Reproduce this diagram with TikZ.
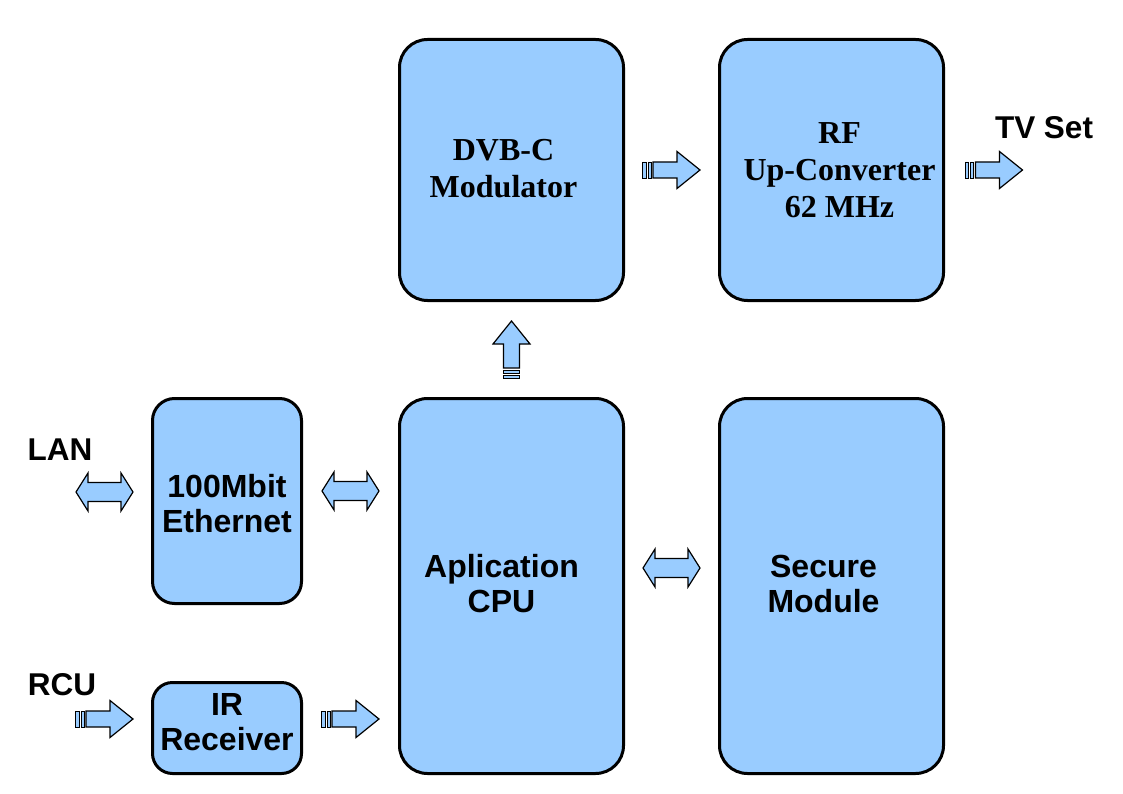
\documentclass[tikz,border=0pt]{standalone}
\usepackage{fontspec}
\setmainfont{Liberation Sans}
\newfontfamily\timesfam{Liberation Serif}
\usetikzlibrary{calc}
\definecolor{boxblue}{HTML}{99CCFF}
\tikzset{
	block/.style={draw=black, line width=3pt, fill=boxblue, rounded corners=28pt, inner sep=0pt},
	txt/.style={align=center, inner sep=0pt, font=\fontsize{32}{35}\selectfont\bfseries},
	sertxt/.style={align=center, inner sep=0pt, font=\timesfam\fontsize{32}{37}\selectfont\bfseries},
	tag/.style={font=\fontsize{31.5}{34}\selectfont\bfseries},
	tipline/.style={fill=boxblue, draw=black, line width=1.2pt, line join=miter},
	sarrow/.pic={
		\filldraw[tipline, line width=0.9pt] (-29,-8) rectangle (-25.5,8) (-23.5,-8) rectangle (-20.5,8);
		\filldraw[tipline] (-18.5,-8) -- (5.5,-8) -- (5.5,-18.5) -- (28.5,0) -- (5.5,18.5) -- (5.5,8) -- (-18.5,8) -- cycle;
	},
	darrow/.pic={
		\filldraw[tipline] (-28.5,0) -- (-16.5,-19) -- (-16.5,-9.5) -- (16.5,-9.5) -- (16.5,-19) -- (28.5,0) -- (16.5,19) -- (16.5,9.5) -- (-16.5,9.5) -- (-16.5,19) -- cycle;
	}
}
\begin{document}
\begin{tikzpicture}[x=1pt, y=-1pt]
			\useasboundingbox[fill=white] (0,0) rectangle (1123,794);
			% boxes
			\node[block, minimum width=224pt, minimum height=261pt, label={[sertxt, xshift=-8pt, yshift=1pt]center:DVB-C\\Modulator}] (dvb) at (511.5,170) {};
			\node[block, minimum width=224pt, minimum height=261pt, label={[sertxt, xshift=8pt]center:RF\\Up-Converter\\62 MHz}] (rf) at (831.5,170) {};
			\node[block, rounded corners=22pt, minimum width=149pt, minimum height=205pt, label={[txt, yshift=-3pt]center:100Mbit\\Ethernet}] (eth) at (227,501) {};
			\node[block, rounded corners=20pt, minimum width=149pt, minimum height=91pt, label={[txt, yshift=6pt]center:IR\\Receiver}] (ir) at (227,728) {};
			\node[block, minimum width=224pt, minimum height=375pt, label={[txt, xshift=-10pt, yshift=2pt]center:Aplication\\CPU}] (cpu) at (511.5,586) {};
			\node[block, minimum width=224pt, minimum height=375pt, label={[txt, xshift=-8pt, yshift=2pt]center:Secure\\Module}] (sec) at (831.5,586) {};
			% outside labels
			\node[tag] (lan) at (60,450) {LAN};
			\node[tag] (rcu) at (62,685) {RCU};
			\node[tag] (tv) at (1044,128) {TV Set};
			% arrows
			\pic at ($(dvb.east)!0.5!(rf.west)$) {sarrow};
			\pic at ([xshift=49pt]rf.east) {sarrow};
			\pic[rotate=90] at ($(cpu.north)!0.5!(dvb.south)$) {sarrow};
			\pic at (104.5,492) {darrow};
			\pic[yshift=10pt] at ($(eth.east)!0.5!(eth.east -| cpu.west)$) {darrow};
			\pic[yshift=18pt] at ($(cpu.east)!0.5!(sec.west)$) {darrow};
			\pic at (104.5,719) {sarrow};
			\pic[yshift=9pt] at ($(ir.east)!0.5!(ir.east -| cpu.west)$) {sarrow};
\end{tikzpicture}
\end{document}
